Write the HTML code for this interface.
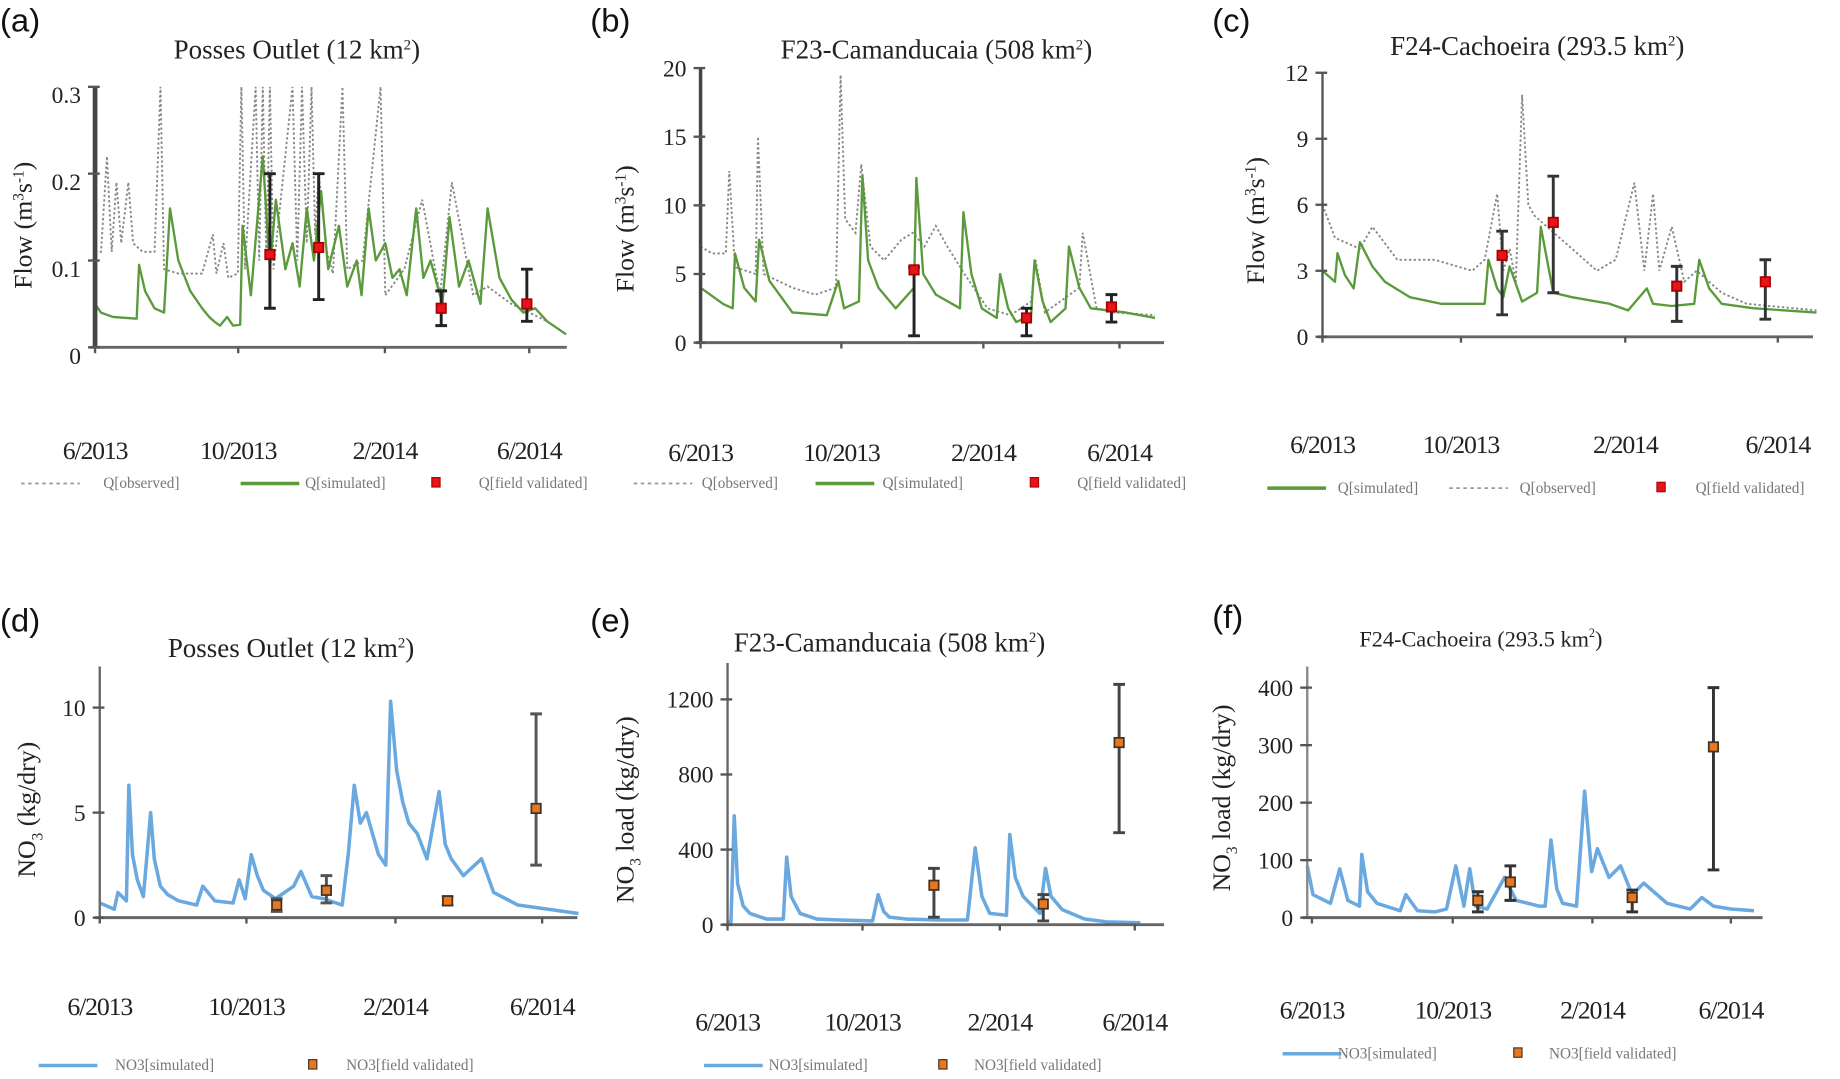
<!DOCTYPE html>
<html><head><meta charset="utf-8"><style>
html,body{margin:0;padding:0;background:#fff}
svg{display:block}
.t{font-family:"Liberation Serif",serif;fill:#222}
.p{font-family:"Liberation Sans",sans-serif;font-size:28px;fill:#111}
.lg{font-family:"Liberation Serif",serif;font-size:13px;fill:#777}
</style></head><body>
<svg id="fig" width="1840" height="1079" viewBox="0 0 1568 919.5" preserveAspectRatio="none" xmlns="http://www.w3.org/2000/svg"></svg>
<script>
// ---- data (days since 1 Jun 2013) ----
const aSimDays=[0,5,15,35,37,42,50,58,63,70,80,90,96,100,105,111,116,122,124,131,141,147,152,160,166,172,178,184,190,196,205,212,220,224,230,236,244,250,256,262,270,276,282,292,298,306,314,324,330,340,350,360,370,380,396];
const aSimVals=[0.05,0.04,0.035,0.033,0.095,0.065,0.045,0.04,0.16,0.1,0.065,0.045,0.035,0.03,0.025,0.035,0.025,0.026,0.14,0.06,0.22,0.09,0.17,0.09,0.12,0.07,0.16,0.1,0.18,0.09,0.14,0.07,0.1,0.06,0.16,0.1,0.12,0.08,0.09,0.06,0.16,0.08,0.1,0.05,0.15,0.07,0.1,0.05,0.16,0.08,0.055,0.04,0.045,0.03,0.015];
const aObsDays=[0,5,10,14,18,22,28,32,40,50,55,58,70,90,99,102,108,112,120,123,126,135,138,141,144,147,150,166,170,174,178,182,185,188,195,200,208,212,225,240,244,260,275,290,300,318,330,350,365,380];
const aObsVals=[0.11,0.11,0.22,0.11,0.19,0.12,0.19,0.12,0.11,0.11,0.32,0.09,0.085,0.085,0.13,0.085,0.12,0.08,0.085,0.32,0.09,0.32,0.1,0.32,0.1,0.32,0.09,0.32,0.1,0.32,0.12,0.32,0.13,0.2,0.11,0.085,0.32,0.09,0.1,0.32,0.06,0.09,0.17,0.06,0.19,0.06,0.07,0.05,0.04,0.03];
const aValDays=[147,188,291,363];const aValVals=[0.107,0.115,0.045,0.05];const aValLo=[0.045,0.055,0.025,0.03];const aValHi=[0.2,0.2,0.065,0.09];

const bSimDays=[0,20,28,30,38,48,51,60,80,110,120,125,138,141,146,155,170,186,188,194,205,226,229,236,245,258,261,268,275,288,291,298,305,318,321,330,340,370,396];
const bSimVals=[4,2.8,2.5,6.5,4,3,7.5,4.5,2.2,2,4.5,2.5,3,12.2,6,4,2.5,4,12,5,3.5,2.5,9.5,5,2.5,1.8,5,2.5,1.5,2,6,3,1.5,2.5,7,4,2.5,2.2,1.8];
const bObsDays=[0,10,22,25,30,48,50,55,80,100,118,122,126,135,140,148,160,175,185,195,205,215,230,250,270,288,292,300,330,333,345,360,396];
const bObsVals=[7,6.5,6.5,12.5,5.5,5,15,5,4,3.5,4,19.5,9,8,13,7,6,7.5,8,7,8.5,7,5,2.5,2,3,6,2.2,4,8,2.5,2.2,2];
const bValDays=[186,284,358];const bValVals=[5.3,1.8,2.6];const bValLo=[0.5,0.5,1.5];const bValHi=[5.5,2.5,3.5];

const cSimDays=[0,10,12,18,25,30,40,50,70,95,120,130,133,140,145,150,160,172,175,185,200,230,245,260,265,280,298,302,310,320,345,396];
const cSimVals=[3,2.5,3.8,2.8,2.2,4.3,3.2,2.5,1.8,1.5,1.5,1.5,3.5,2.2,1.8,3.2,1.6,2,5,2,1.8,1.5,1.2,2.2,1.5,1.4,1.5,3.5,2.2,1.5,1.3,1.1];
const cObsDays=[0,10,30,40,60,90,120,130,140,145,150,155,160,165,170,200,220,235,250,258,265,270,280,290,300,320,340,396];
const cObsVals=[6,4.5,4,5,3.5,3.5,3,3.5,6.5,3,4,2.5,11,6,5.5,4,3,3.5,7,3,6.5,3,5,2.5,3,2,1.5,1.2];
const cValDays=[144,185,284,355];const cValVals=[3.7,5.2,2.3,2.5];const cValLo=[1,2,0.7,0.8];const cValHi=[4.8,7.3,3.2,3.5];

const dSimDays=[0,12,15,22,24,27,31,36,42,45,50,56,65,80,85,95,110,115,120,125,130,135,145,160,166,175,185,200,205,210,215,220,230,236,240,245,250,255,262,270,280,285,290,300,315,325,345,370,395];
const dSimVals=[0.7,0.4,1.2,0.8,6.3,3,1.8,1,5,2.8,1.5,1.1,0.8,0.6,1.5,0.8,0.7,1.8,0.9,3,2,1.3,0.9,1.5,2.2,1,0.9,0.6,3,6.3,4.5,5,3,2.5,10.3,7,5.5,4.5,4,2.8,6,3.5,2.8,2,2.8,1.2,0.6,0.4,0.2];
const dValDays=[146,187,287,360];const dValVals=[0.6,1.3,0.8,5.2];const dValLo=[0.3,0.7,0.6,2.5];const dValHi=[0.9,2,1,9.7];

const eSimDays=[0,3,6,9,14,20,35,50,53,57,65,80,100,130,135,140,145,160,190,215,222,228,235,250,253,258,265,280,285,290,300,320,340,370];
const eSimVals=[20,10,580,220,100,60,30,30,360,150,60,30,25,20,160,70,40,30,25,25,410,150,60,50,480,250,150,60,300,150,80,30,15,10];
const eValDays=[185,283,351];const eValVals=[210,110,970];const eValLo=[40,20,490];const eValHi=[300,160,1280];

const fSimDays=[0,5,20,28,35,45,47,52,60,80,85,95,110,120,128,135,140,145,155,170,180,200,205,210,215,220,232,239,245,250,260,270,280,290,310,330,340,350,365,385];
const fSimVals=[90,40,25,85,30,20,110,45,25,12,40,12,10,15,90,20,85,20,15,70,30,20,20,135,50,25,20,220,80,120,70,90,40,60,25,15,35,20,15,12];
const fValDays=[147,175,280,350];const fValVals=[30,62,35,297];const fValLo=[10,30,10,83];const fValHi=[45,90,48,400];

const xTickLabels=["6/2013","10/2013","2/2014","6/2014"];
const aYTicks=[0,0.1,0.2,0.3],aYLab=["0","0.1","0.2","0.3"];
const bYTicks=[0,5,10,15,20];
const cYTicks=[0,3,6,9,12];
const dYTicks=[0,5,10];
const eYTicks=[0,400,800,1200];
const fYTicks=[0,100,200,300,400];

// ---- rendering ----
const NS="http://www.w3.org/2000/svg",svg=document.getElementById('fig');
function mk(tag,attrs,parent,text){const e=document.createElementNS(NS,tag);for(const k in attrs)e.setAttribute(k,attrs[k]);if(text!==undefined)e.textContent=text;(parent||svg).appendChild(e);return e;}

function panel(cfg){
  const g=mk('g',{});
  
  
  const xs=d=>cfg.x0+(cfg.xTick[3]-cfg.x0)*d/365;
  const ys=v=>cfg.y0-(cfg.y0-cfg.yTop)*v/cfg.yMax;
  const pl=mk('text',{x:cfg.lx,y:cfg.ly,class:'p'},g,'('+cfg.id+')');
  
  const tt=mk('text',{x:cfg.tx,y:cfg.ty,class:'t','font-size':cfg.tfs,'text-anchor':'middle'},g);
  
  tt.innerHTML=cfg.title+' km<tspan dy="-8" font-size="'+(cfg.tfs*0.55)+'">2</tspan><tspan dy="8">)</tspan>';
  const yt=mk('text',{transform:`translate(${cfg.ytx},${cfg.yty}) rotate(-90)`,class:'t','font-size':22,'text-anchor':'middle'},g);
  
  yt.innerHTML=cfg.ytitle;
  if(cfg.obsD){const p=mk('polyline',{points:cfg.obsD.map((d,i)=>xs(d)+','+Math.max(cfg.clipTop,ys(cfg.obsV[i]))).join(' '),fill:'none',stroke:'#888','stroke-width':1.6,'stroke-dasharray':'2,2'},g);
    }
  const s=mk('polyline',{points:cfg.simD.map((d,i)=>xs(d)+','+ys(cfg.simV[i])).join(' '),fill:'none',stroke:cfg.col,'stroke-width':cfg.sw,'stroke-linejoin':'round'},g);
  
  const ya=mk('line',{x1:cfg.x0,y1:cfg.yAxTop,x2:cfg.x0,y2:cfg.y0,stroke:cfg.ycol,'stroke-width':cfg.yw},g);
  
  const xa=mk('line',{x1:cfg.x0-4,y1:cfg.y0,x2:cfg.xEnd,y2:cfg.y0,stroke:'#666','stroke-width':2.5},g);
  
  cfg.yT.forEach((v,i)=>{
    const tk=mk('line',{x1:cfg.x0-6,y1:ys(v),x2:cfg.x0+4,y2:ys(v),stroke:'#555','stroke-width':2},g);
    
    const tl=mk('text',{x:cfg.x0-12,y:ys(v)+cfg.labOff,class:'t','font-size':20,'text-anchor':'end'},g,cfg.yL?cfg.yL[i]:String(v));
    
  });
  cfg.xTick.forEach((x,i)=>{
    const tk=mk('line',{x1:x,y1:cfg.y0,x2:x,y2:cfg.y0+5,stroke:'#555','stroke-width':2},g);
    
    const tl=mk('text',{x:x,y:cfg.xly,class:'t','font-size':22,'text-anchor':'middle','letter-spacing':'-1'},g,xTickLabels[i]);
    
  });
  cfg.vD.forEach((d,i)=>{
    const x=xs(d);
    const eb=mk('path',{d:`M${x},${ys(cfg.vLo[i])}V${ys(cfg.vHi[i])}M${x-5},${ys(cfg.vLo[i])}h10M${x-5},${ys(cfg.vHi[i])}h10`,stroke:cfg.ebcol,'stroke-width':2.5,fill:'none'},g);
    
    const m=mk('rect',{x:x-4,y:ys(cfg.vV[i])-4,width:8,height:8,fill:cfg.mcol,stroke:cfg.mstroke,'stroke-width':1.5},g);
    
  });
  cfg.legend.forEach(L=>{
    let sym;
    if(L.t==='dash')sym=mk('line',{x1:L.x,y1:cfg.legY-4,x2:L.x+50,y2:cfg.legY-4,stroke:'#999','stroke-width':1.5,'stroke-dasharray':'3,3'},g);
    else if(L.t==='line')sym=mk('line',{x1:L.x,y1:cfg.legY-4,x2:L.x+50,y2:cfg.legY-4,stroke:cfg.col,'stroke-width':3},g);
    else sym=mk('rect',{x:L.x,y:cfg.legY-9,width:7,height:8,fill:cfg.mcol,stroke:cfg.mstroke},g);
    
    const lt=mk('text',{x:L.tx,y:cfg.legY,class:'lg'},g,L.s);
    
  });
}
const flowT='Flow (m<tspan dy="-7" font-size="13">3</tspan><tspan dy="7">s</tspan><tspan dy="-7" font-size="13">-1</tspan><tspan dy="7">)</tspan>';
const qLeg=(x)=>[{t:'dash',x:x[0],tx:x[1],s:'Q[observed]'},{t:'line',x:x[2],tx:x[3],s:'Q[simulated]'},{t:'sq',x:x[4],tx:x[5],s:'Q[field validated]'}];
panel({id:'a',title:'Posses Outlet (12',tx:253,ty:50,tfs:23,lx:0,ly:27,ytx:27,yty:192,ytitle:flowT,
 x0:81,xTick:[81,203,328,451],xEnd:483,y0:296,yTop:74,yMax:0.3,yAxTop:74,clipTop:74,yT:aYTicks,yL:aYLab,labOff:14,xly:391,
 simD:aSimDays,simV:aSimVals,obsD:aObsDays,obsV:aObsVals,vD:aValDays,vV:aValVals,vLo:aValLo,vHi:aValHi,
 col:'#5a9a3a',sw:2,ycol:'#444',yw:4,ebcol:'#222',mcol:'#e8141c',mstroke:'#a00',legY:416,legend:qLeg([18,88,205,260,368,408])});
panel({id:'b',title:'F23-Camanducaia (508',tx:798,ty:50,tfs:23,lx:503,ly:27,ytx:540,yty:195,ytitle:flowT,
 x0:597,xTick:[597,717,838,954],xEnd:992,y0:292,yTop:58,yMax:20,yAxTop:58,clipTop:58,yT:bYTicks,labOff:7,xly:393,
 simD:bSimDays,simV:bSimVals,obsD:bObsDays,obsV:bObsVals,vD:bValDays,vV:bValVals,vLo:bValLo,vHi:bValHi,
 col:'#5a9a3a',sw:2,ycol:'#444',yw:3,ebcol:'#222',mcol:'#e8141c',mstroke:'#a00',legY:416,legend:qLeg([540,598,695,752,878,918])});
panel({id:'c',title:'F24-Cachoeira (293.5',tx:1310,ty:47,tfs:23,lx:1033,ly:27,ytx:1077,yty:188,ytitle:flowT,
 x0:1127,xTick:[1127,1245,1385,1515],xEnd:1545,y0:287,yTop:62,yMax:12,yAxTop:62,clipTop:62,yT:cYTicks,labOff:7,xly:386,
 simD:cSimDays,simV:cSimVals,obsD:cObsDays,obsV:cObsVals,vD:cValDays,vV:cValVals,vLo:cValLo,vHi:cValHi,
 col:'#5a9a3a',sw:2,ycol:'#555',yw:2,ebcol:'#333',mcol:'#e8141c',mstroke:'#a00',legY:420,
 legend:[{t:'line',x:1080,tx:1140,s:'Q[simulated]'},{t:'dash',x:1235,tx:1295,s:'Q[observed]'},{t:'sq',x:1412,tx:1445,s:'Q[field validated]'}]});
const noT=(s)=>'NO<tspan dy="6" font-size="13">3</tspan><tspan dy="-6">'+s+'</tspan>';
const nLeg=(x)=>[{t:'line',x:x[0],tx:x[1],s:'NO3[simulated]'},{t:'sq',x:x[2],tx:x[3],s:'NO3[field validated]'}];
panel({id:'d',title:'Posses Outlet (12',tx:248,ty:560,tfs:23,lx:0,ly:538,ytx:30,yty:690,ytitle:noT(' (kg/dry)'),
 x0:85,xTick:[85,210,337,462],xEnd:492,y0:782,yTop:603,yMax:10,yAxTop:568,clipTop:0,yT:dYTicks,labOff:7,xly:865,
 simD:dSimDays,simV:dSimVals,vD:dValDays,vV:dValVals,vLo:dValLo,vHi:dValHi,
 col:'#6aa8e0',sw:3,ycol:'#666',yw:2,ebcol:'#555',mcol:'#e87820',mstroke:'#432',legY:912,legend:nLeg([33,98,263,295])});
panel({id:'e',title:'F23-Camanducaia (508',tx:758,ty:555,tfs:23,lx:503,ly:538,ytx:540,yty:690,ytitle:noT(' load (kg/dry)'),
 x0:620,xTick:[620,735,852,967],xEnd:992,y0:788,yTop:596,yMax:1200,yAxTop:565,clipTop:0,yT:eYTicks,labOff:7,xly:878,
 simD:eSimDays,simV:eSimVals,vD:eValDays,vV:eValVals,vLo:eValLo,vHi:eValHi,
 col:'#6aa8e0',sw:3,ycol:'#666',yw:2,ebcol:'#444',mcol:'#e87820',mstroke:'#432',legY:912,legend:nLeg([600,655,800,830])});
panel({id:'f',title:'F24-Cachoeira (293.5',tx:1262,ty:551,tfs:19,lx:1033,ly:535,ytx:1048,yty:680,ytitle:noT(' load (kg/dry)'),
 x0:1114,xTick:[1118,1238,1357,1475],xEnd:1502,y0:782,yTop:586,yMax:400,yAxTop:568,clipTop:0,yT:fYTicks,labOff:7,xly:868,
 simD:fSimDays,simV:fSimVals,vD:fValDays,vV:fValVals,vLo:fValLo,vHi:fValHi,
 col:'#6aa8e0',sw:3,ycol:'#888',yw:2,ebcol:'#333',mcol:'#e87820',mstroke:'#432',legY:902,legend:nLeg([1093,1140,1290,1320])});
</script>
</body></html>
